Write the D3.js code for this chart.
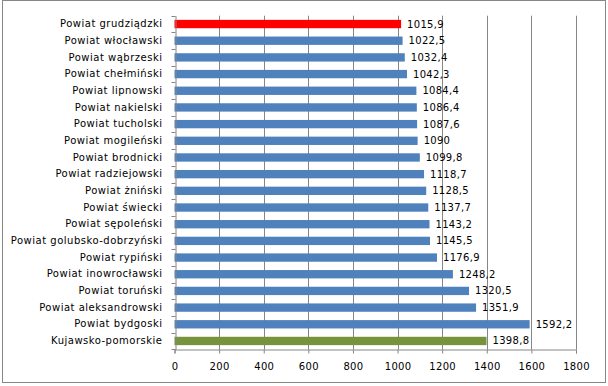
<!DOCTYPE html>
<html>
<head>
<meta charset="utf-8">
<script src="https://cdn.jsdelivr.net/npm/d3@7"></script>
<style>
  body { margin: 0; background: #fff; }
  text { font-family: 'DejaVu Sans', sans-serif; font-size: 10px; fill: #000; }
</style>
</head>
<body>
<svg id="chart"></svg>
<script>
const categories = ['Powiat grudziądzki', 'Powiat włocławski', 'Powiat wąbrzeski', 'Powiat chełmiński',
	'Powiat lipnowski', 'Powiat nakielski', 'Powiat tucholski', 'Powiat mogileński', 'Powiat brodnicki',
	'Powiat radziejowski', 'Powiat żniński', 'Powiat świecki', 'Powiat sępoleński',
	'Powiat golubsko-dobrzyński', 'Powiat rypiński', 'Powiat inowrocławski', 'Powiat toruński',
	'Powiat aleksandrowski', 'Powiat bydgoski', 'Kujawsko-pomorskie']
const values = [1015.9, 1022.5, 1032.4, 1042.3, 1084.4, 1086.4, 1087.6, 1090, 1099.8, 1118.7,
	1128.5, 1137.7, 1143.2, 1145.5, 1176.9, 1248.2, 1320.5, 1351.9, 1592.2, 1398.8]
const xTicks = [0, 200, 400, 600, 800, 1000, 1200, 1400, 1600, 1800]

const svgW = 608, svgH = 386
const plotLeft = 174.5, plotRight = 576, plotTop = 15.7, plotBottom = 349.3

const svg = d3.select('#chart').attr('width', svgW).attr('height', svgH)

//outer frame
svg.append('rect')
	.attr('x', 2.5).attr('y', 0.5)
	.attr('width', 603).attr('height', 382)
	.attr('fill', '#fff')
	.attr('stroke', '#868686')

const x = d3.scaleLinear().domain([0, 1800]).range([plotLeft, plotRight])
const y = d3.scaleBand().domain(categories).range([plotTop, plotBottom])
	.paddingInner(0.5).paddingOuter(0.25)
const step = y.step()

//gridlines
svg.append('g')
	.selectAll('line')
	.data(xTicks.slice(1))
	.enter()
	.append('line')
	.attr('x1', d => Math.round(x(d)) + 0.5)
	.attr('x2', d => Math.round(x(d)) + 0.5)
	.attr('y1', plotTop)
	.attr('y2', plotBottom)
	.attr('stroke', '#868686')

//bars
svg.append('g')
	.selectAll('rect')
	.data(values)
	.enter()
	.append('rect')
	.attr('x', x(0))
	.attr('y', (d, i) => y(categories[i]))
	.attr('width', d => x(d) - x(0))
	.attr('height', y.bandwidth())
	.attr('fill', (d, i) => i === 0 ? '#ff0000' : (i === values.length - 1 ? '#77933c' : '#4f81bd'))

//value labels
svg.append('g')
	.selectAll('text')
	.data(values)
	.enter()
	.append('text')
	.attr('x', d => x(d) + 6)
	.attr('y', (d, i) => y(categories[i]) + y.bandwidth() / 2)
	.attr('dy', '0.35em')
	.style('letter-spacing', '0.3px')
	.text(d => String(d).replace('.', ','))

//x axis
const xAxis = d3.axisBottom(x).tickValues(xTicks).tickSize(4).tickPadding(9).tickFormat(d => d)
const gx = svg.append('g')
	.attr('transform', 'translate(0,' + (Math.round(plotBottom) + 0.5) + ')')
	.call(xAxis)
gx.select('.domain').attr('stroke', '#868686')
gx.selectAll('.tick line').attr('stroke', '#868686')
gx.selectAll('text')
	.style('font-family', "'DejaVu Sans', sans-serif")
	.style('font-size', '10px')
	.style('letter-spacing', '0.3px')

//y axis, labels only
const yAxis = d3.axisLeft(y).tickSize(0).tickPadding(13)
const gy = svg.append('g')
	.attr('transform', 'translate(' + (Math.round(plotLeft) + 0.5) + ',0)')
	.call(yAxis)
gy.select('.domain').attr('stroke', '#868686')
gy.selectAll('text')
	.style('font-family', "'DejaVu Sans', sans-serif")
	.style('font-size', '10px')
	.style('letter-spacing', '0.5px')

//category boundary ticks
svg.append('g')
	.selectAll('line')
	.data(d3.range(categories.length + 1))
	.enter()
	.append('line')
	.attr('x1', Math.round(plotLeft) + 0.5 - 4)
	.attr('x2', Math.round(plotLeft) + 0.5)
	.attr('y1', i => Math.round(plotTop + i * step) + 0.5)
	.attr('y2', i => Math.round(plotTop + i * step) + 0.5)
	.attr('stroke', '#868686')
</script>
</body>
</html>
